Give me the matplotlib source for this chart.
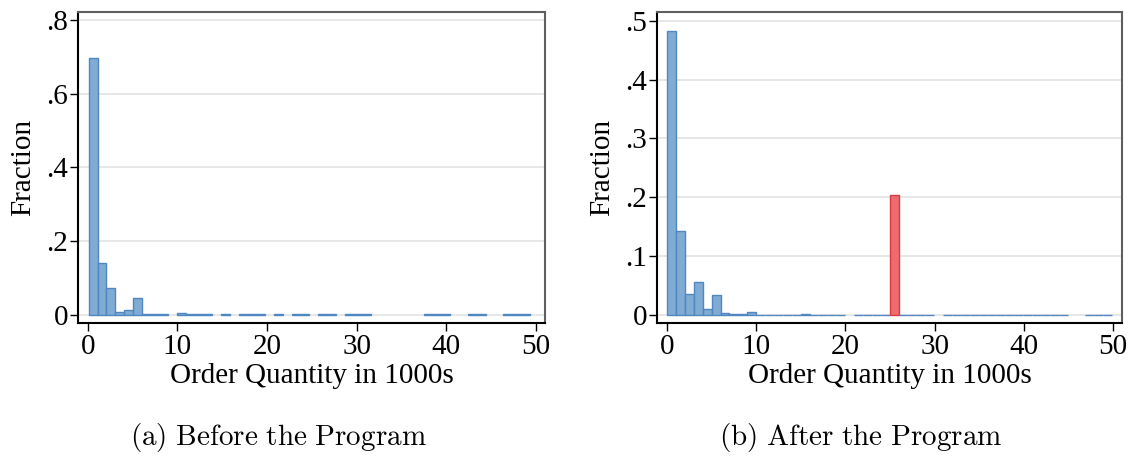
import matplotlib
matplotlib.use("Agg")
import matplotlib.pyplot as plt
import numpy as np

# Histogram of order quantities (in 1000s), before and after the program
before_start, before_width = 0.1, 0.984
before_frac = [
    0.696, 0.140, 0.072, 0.008, 0.013, 0.045, 0.0008, 0.0008, 0.0008, 0.0,
    0.0045, 0.0008, 0.0008, 0.0008, 0.0, 0.0008, 0.0, 0.0008, 0.0008, 0.0008,
    0.0, 0.0008, 0.0, 0.0008, 0.0008, 0.0, 0.0008, 0.0008, 0.0, 0.0008,
    0.0008, 0.0008, 0.0, 0.0, 0.0, 0.0, 0.0, 0.0, 0.0008, 0.0008,
    0.0008, 0.0, 0.0, 0.0008, 0.0008, 0.0, 0.0, 0.0008, 0.0008, 0.0008,
]

after_start, after_width = 0.04, 0.997
after_frac = [
    0.482, 0.1426, 0.0352, 0.0556, 0.0103, 0.0342, 0.0036, 0.0018, 0.0018, 0.0052,
    0.0008, 0.0008, 0.0008, 0.0008, 0.0008, 0.0025, 0.0008, 0.0008, 0.0008, 0.0008,
    0.0, 0.0008, 0.0008, 0.0008, 0.0008, 0.2034, 0.0008, 0.0008, 0.0008, 0.0008,
    0.0, 0.0008, 0.0008, 0.0008, 0.0008, 0.0008, 0.0008, 0.0008, 0.0008, 0.0008,
    0.0008, 0.0008, 0.0008, 0.0008, 0.0008, 0.0, 0.0, 0.0008, 0.0008, 0.0008,
]
after_highlight = 25  # the 25k bin

before_yticks = [0, 0.2, 0.4, 0.6, 0.8]
before_ylabels = ["0", ".2", ".4", ".6", ".8"]
after_yticks = [0, 0.1, 0.2, 0.3, 0.4, 0.5]
after_ylabels = ["0", ".1", ".2", ".3", ".4", ".5"]
xticks = [0, 10, 20, 30, 40, 50]

xlabel = "Order Quantity in 1000s"
ylabel = "Fraction"
captions = [r"$\mathrm{(a)\ Before\ the\ Program}$", r"$\mathrm{(b)\ After\ the\ Program}$"]

blue_fill, blue_edge = "#80abd3", "#4e87c1"
red_fill, red_edge = "#ee6b6f", "#d93a3e"

plt.rcParams["font.family"] = "Liberation Serif"
plt.rcParams["mathtext.fontset"] = "cm"

fig = plt.figure(figsize=(11.34, 4.59), dpi=100)
W, H = 1134.0, 459.0
ax1 = fig.add_axes([78 / W, 1 - 323 / H, 467 / W, 311 / H])
ax2 = fig.add_axes([657 / W, 1 - 323 / H, 465 / W, 311 / H])


def draw_hist(ax, start, width, frac, yticks, ylabels, ylim, highlight=None):
    frac = np.array(frac)
    left = start + width * np.arange(len(frac))
    keep = frac > 0
    fills = [blue_fill] * len(frac)
    edges = [blue_edge] * len(frac)
    if highlight is not None:
        fills[highlight] = red_fill
        edges[highlight] = red_edge
    ax.bar(left[keep], frac[keep], width=width, align="edge",
           color=np.array(fills)[keep], edgecolor=np.array(edges)[keep],
           linewidth=1.0, zorder=3)
    ax.set_xlim(-1.1, 51.0)
    ax.set_ylim(*ylim)
    ax.set_yticks(yticks)
    ax.set_yticklabels(ylabels)
    ax.set_xticks(xticks)
    ax.yaxis.grid(True, color="#e3e3e3", linewidth=1.2, zorder=0)
    ax.set_axisbelow(True)
    ax.tick_params(axis="both", direction="out", length=6, width=1.0,
                   labelsize=21, color="black", pad=2)
    ax.tick_params(axis="y", pad=1)
    for side in ["left", "bottom"]:
        ax.spines[side].set_color("black")
        ax.spines[side].set_linewidth(1.5)
    for side in ["top", "right"]:
        ax.spines[side].set_color("#5f5f5f")
        ax.spines[side].set_linewidth(1.5)
    ax.set_xlabel(xlabel, fontsize=21, labelpad=2)
    ax.set_ylabel(ylabel, fontsize=21, labelpad=7)


draw_hist(ax1, before_start, before_width, before_frac,
          before_yticks, before_ylabels, (-0.0225, 0.822))
draw_hist(ax2, after_start, after_width, after_frac,
          after_yticks, after_ylabels, (-0.0136, 0.515), highlight=after_highlight)

fig.text(278 / W, 1 - 438 / H, captions[0], ha="center", va="center", fontsize=21)
fig.text(861 / W, 1 - 438 / H, captions[1], ha="center", va="center", fontsize=21)

fig.savefig("out.png", dpi=100)
